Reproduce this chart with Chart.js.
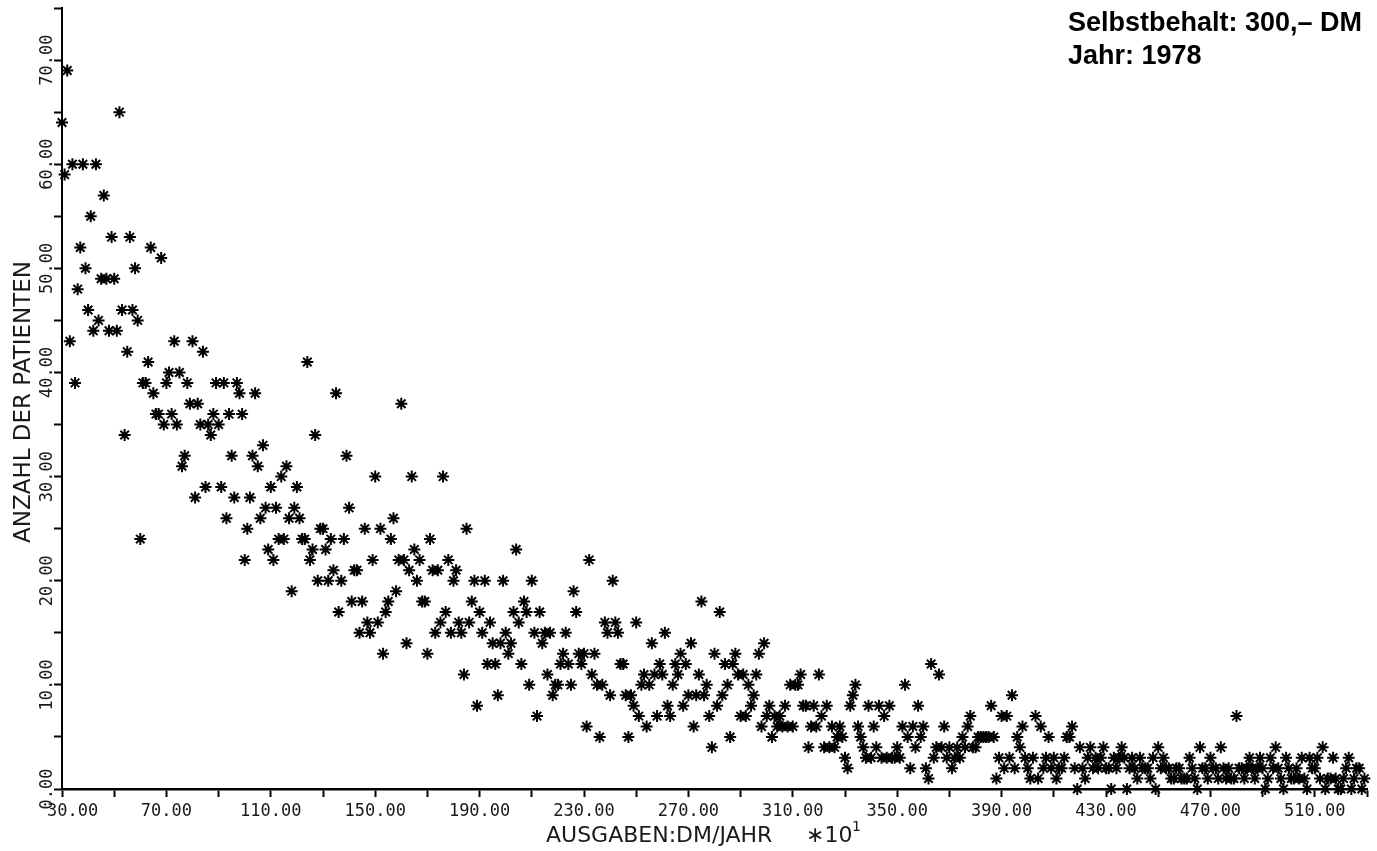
<!DOCTYPE html>
<html>
<head>
<meta charset="utf-8">
<script src="https://cdn.jsdelivr.net/npm/chart.js@4.4.1/dist/chart.umd.min.js"></script>
<style>
  html, body { margin: 0; padding: 0; background: #fff; }
</style>
</head>
<body>
<canvas id="plot" width="1377" height="851"></canvas>
<script>
// Anzahl der Patienten je Ausgabenklasse (Klasse = DM/Jahr * 10), eine Zahl pro Klasse
const firstClass = 30;

const patients030 = [
  64, 59, 69, 43, 60, 39, 48, 52, 60, 50,
  46, 55, 44, 60, 45, 49, 57, 49, 44, 53,
  49, 44, 65, 46, 34, 42, 53, 46, 50, 45,
  24, 39, 39, 41, 52, 38, 36, 36, 51, 35,
  39, 40, 36, 43, 35, 40, 31, 32, 39, 37,
  43, 28, 37, 35, 42, 29, 35, 34, 36, 39,
  35, 29, 39, 26, 36, 32, 28, 39, 38, 36,
  22, 25, 28, 32, 38, 31, 26, 33, 27, 23,
  29, 22, 27, 24, 30, 24, 31, 26, 19, 27,
  29, 26, 24, 24, 41, 22, 23, 34, 20, 25
];

const patients130 = [
  25, 23, 20, 24, 21, 38, 17, 20, 24, 32,
  27, 18, 21, 21, 15, 18, 25, 16, 15, 22,
  30, 16, 25, 13, 17, 18, 24, 26, 19, 22,
  37, 22, 14, 21, 30, 23, 20, 22, 18, 18,
  13, 24, 21, 15, 21, 16, 30, 17, 22, 15,
  20, 21, 16, 15, 11, 25, 16, 18, 20, 8,
  17, 15, 20, 12, 16, 14, 12, 9, 14, 20,
  15, 13, 14, 17, 23, 16, 12, 18, 17, 10,
  20, 15, 7, 17, 14, 15, 11, 15, 9, 10,
  10, 12, 13, 15, 12, 10, 19, 17, 13, 12
];

const patients230 = [
  13, 6, 22, 11, 13, 10, 5, 10, 16, 15,
  9, 20, 16, 15, 12, 12, 9, 5, 9, 8,
  16, 7, 10, 11, 6, 10, 14, 11, 7, 12,
  11, 15, 8, 7, 10, 12, 11, 13, 8, 12,
  9, 14, 6, 9, 11, 18, 9, 10, 7, 4,
  13, 8, 17, 9, 12, 10, 5, 12, 13, 11,
  7, 11, 7, 10, 8, 9, 11, 13, 6, 14,
  7, 8, 5, 7, 6, 7, 6, 8, 6, 10,
  6, 10, 10, 11, 8, 8, 4, 6, 8, 6,
  11, 7, 4, 8, 4, 6, 4, 5, 6, 5
];

const patients330 = [
  3, 2, 8, 9, 10, 6, 5, 4, 3, 8,
  3, 6, 4, 8, 3, 7, 3, 8, 3, 3,
  4, 3, 6, 10, 5, 2, 6, 4, 8, 5,
  6, 2, 1, 12, 3, 4, 11, 4, 6, 3,
  4, 2, 3, 4, 3, 5, 4, 6, 7, 4,
  4, 5, 5, 5, 5, 5, 8, 5, 1, 3,
  7, 2, 7, 3, 9, 2, 5, 4, 6, 3,
  2, 1, 3, 7, 1, 6, 2, 3, 5, 2,
  3, 1, 2, 2, 3, 5, 5, 6, 2, 0,
  4, 2, 1, 3, 4, 2, 3, 2, 3, 4
];

const patients430 = [
  2, 2, 0, 3, 2, 3, 4, 3, 0, 2,
  3, 2, 1, 3, 2, 2, 2, 1, 3, 0,
  4, 2, 3, 2, 2, 1, 1, 2, 2, 1,
  1, 1, 3, 2, 1, 0, 4, 2, 2, 1,
  3, 2, 2, 1, 4, 2, 1, 2, 1, 1,
  7, 2, 2, 1, 2, 3, 2, 1, 2, 3,
  2, 0, 1, 3, 2, 4, 2, 1, 0, 3,
  2, 1, 1, 2, 1, 3, 1, 0, 3, 2,
  2, 3, 1, 4, 0, 1, 1, 3, 1, 0,
  0, 1, 2, 3, 0, 1, 2, 2, 0, 1
];

// Achsen und Beschriftung
const xMin = 30, xMax = 530, xStep = 20;
const yMin = 0, yMax = 75, yStep = 5;
const xLabelValues = [30, 70, 110, 150, 190, 230, 270, 310, 350, 390, 430, 470, 510];
const yLabelValues = [0, 10, 20, 30, 40, 50, 60, 70];
const xTitle = 'AUSGABEN:DM/JAHR';
const xFactor = '\u221710';
const xFactorExp = '1';
const yTitle = 'ANZAHL DER PATIENTEN';
const noteLines = ['Selbstbehalt: 300,\u2013 DM', 'Jahr: 1978'];

const patients = [...patients030, ...patients130, ...patients230, ...patients330, ...patients430];
const points = patients.map((n, i) => ({ x: firstClass + i, y: n }));

const plotterFont = '"DejaVu Sans Mono", monospace';

// Plotter-Beschriftung: Zahlen an den Achsen, Achsentitel, Notiz oben rechts
const axisText = {
  id: 'axisText',
  afterDraw(chart) {
    const { ctx, scales: { x, y } } = chart;
    ctx.save();
    ctx.fillStyle = '#1a1a1a';
    ctx.font = '17px ' + plotterFont;
    ctx.textBaseline = 'alphabetic';

    xLabelValues.forEach((v, i) => {
      const px = x.getPixelForValue(v);
      const label = v.toFixed(2);
      if (i === 0) {
        ctx.textAlign = 'left';
        ctx.fillText(label, px - 15, 816);
      } else {
        ctx.textAlign = 'center';
        ctx.fillText(label, px, 816);
      }
    });

    yLabelValues.forEach((v) => {
      const py = y.getPixelForValue(v);
      ctx.save();
      ctx.translate(52, py);
      ctx.rotate(-Math.PI / 2);
      ctx.textAlign = 'center';
      ctx.fillText(v.toFixed(2), 0, 0);
      ctx.restore();
    });

    ctx.font = '22px "DejaVu Sans"';
    ctx.textAlign = 'left';
    ctx.fillText(xTitle, 546, 842);
    ctx.fillText(xFactor, 806, 842);
    ctx.font = '14px "DejaVu Sans"';
    ctx.fillText(xFactorExp, 852, 831);

    ctx.save();
    ctx.font = '23px "DejaVu Sans"';
    ctx.translate(30, 402);
    ctx.rotate(-Math.PI / 2);
    ctx.textAlign = 'center';
    ctx.fillText(yTitle, 0, 0);
    ctx.restore();

    ctx.fillStyle = '#000';
    ctx.font = 'bold 27px "Liberation Sans", Arial, sans-serif';
    ctx.textAlign = 'left';
    ctx.fillText(noteLines[0], 1068, 31);
    ctx.fillText(noteLines[1], 1068, 64);
    ctx.restore();
  }
};

const axisLines = {
  drawOnChartArea: false,
  drawTicks: true,
  tickLength: 8,
  tickWidth: 2,
  color: '#000'
};

new Chart(document.getElementById('plot'), {
  type: 'scatter',
  data: {
    datasets: [{
      data: points,
      pointStyle: 'star',
      pointRadius: 6,
      pointBorderWidth: 2,
      pointBorderColor: '#000',
      pointBackgroundColor: '#000',
      showLine: true,
      borderWidth: 1,
      borderColor: '#000',
      // Verbindungslinie nur zwischen benachbarten Klassen mit fast gleicher Zahl
      segment: {
        borderColor: (c) => Math.abs(c.p1.parsed.y - c.p0.parsed.y) <= 1 ? '#000' : 'rgba(0,0,0,0)'
      },
      clip: false
    }]
  },
  options: {
    responsive: false,
    animation: false,
    events: [],
    layout: { padding: { left: 54, right: 10, top: 7, bottom: 54 } },
    plugins: {
      legend: { display: false },
      tooltip: { enabled: false }
    },
    scales: {
      x: {
        type: 'linear',
        min: xMin,
        max: xMax,
        ticks: { stepSize: xStep, display: false },
        grid: axisLines,
        border: { color: '#000', width: 2.5 }
      },
      y: {
        type: 'linear',
        min: yMin,
        max: yMax,
        ticks: { stepSize: yStep, display: false },
        grid: axisLines,
        border: { color: '#000', width: 2 }
      }
    }
  },
  plugins: [axisText]
});
</script>
</body>
</html>
